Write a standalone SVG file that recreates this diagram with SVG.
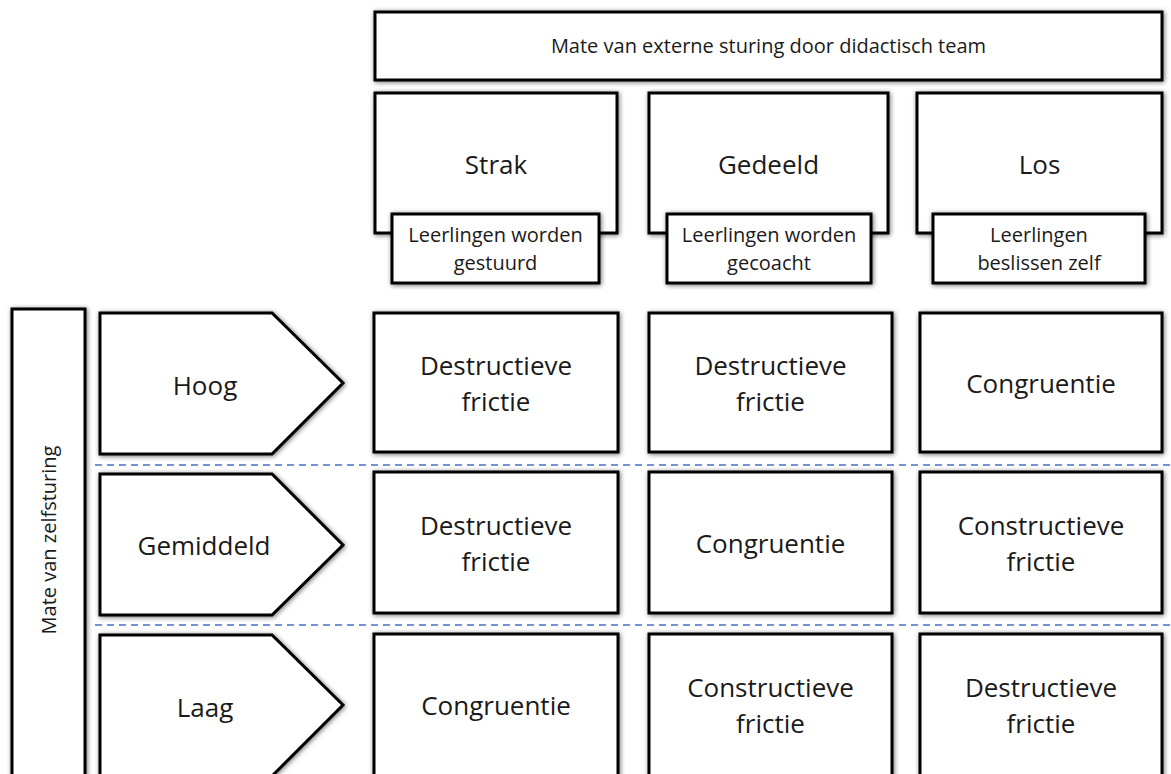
<svg xmlns="http://www.w3.org/2000/svg" width="1171" height="774" viewBox="0 0 1171 774">
  <defs>
    <filter id="sh" x="-10%" y="-10%" width="120%" height="120%">
      <feGaussianBlur in="SourceAlpha" stdDeviation="2.5"/>
      <feOffset dx="1" dy="1" result="b"/>
      <feComponentTransfer><feFuncA type="linear" slope="0.55"/></feComponentTransfer>
      <feMerge><feMergeNode/><feMergeNode in="SourceGraphic"/></feMerge>
    </filter>
  </defs>
  <style>
    .box { fill: #ffffff; stroke: #000000; stroke-width: 3; filter: url(#sh); }
    .t { font-family: "Open Sans", "Liberation Sans", sans-serif; fill: #1a1a1a; text-anchor: middle; }
    .big { font-size: 26px; }
    .small { font-size: 20px; }
    .sep { stroke: #4472C4; stroke-width: 1.5; stroke-dasharray: 7 5; fill: none; }
  </style>
  <rect width="1171" height="774" fill="#ffffff"/>

  <g id="separators">
    <line class="sep" x1="95" y1="465" x2="1171" y2="465"/>
    <line class="sep" x1="95" y1="625" x2="1171" y2="625"/>
  </g>

  <g id="title">
    <rect class="box" x="375" y="12" width="787" height="68"/>
    <text class="t small" x="768.5" y="53">Mate van externe sturing door didactisch team</text>
  </g>

  <g id="col-strak">
    <rect class="box" x="375" y="93" width="242" height="140"/>
    <text class="t big" x="496" y="174">Strak</text>
  </g>
  <g id="sub-strak">
    <rect class="box" x="392" y="214" width="207" height="69"/>
    <text class="t small" x="495.5" y="242">Leerlingen worden</text>
    <text class="t small" x="495.5" y="270">gestuurd</text>
  </g>

  <g id="col-gedeeld">
    <rect class="box" x="649" y="93" width="239" height="140"/>
    <text class="t big" x="768.5" y="174">Gedeeld</text>
  </g>
  <g id="sub-gedeeld">
    <rect class="box" x="667" y="214" width="204" height="69"/>
    <text class="t small" x="769" y="242">Leerlingen worden</text>
    <text class="t small" x="769" y="270">gecoacht</text>
  </g>

  <g id="col-los">
    <rect class="box" x="917" y="93" width="245" height="140"/>
    <text class="t big" x="1039.5" y="174">Los</text>
  </g>
  <g id="sub-los">
    <rect class="box" x="933" y="214" width="212" height="69"/>
    <text class="t small" x="1039" y="242">Leerlingen</text>
    <text class="t small" x="1039" y="270">beslissen zelf</text>
  </g>

  <g id="axis-zelfsturing">
    <rect class="box" x="12" y="309" width="73" height="490"/>
    <text class="t small" transform="translate(56,540) rotate(-90)" x="0" y="0">Mate van zelfsturing</text>
  </g>

  <g id="row-hoog">
    <polygon class="box" points="100,313 272,313 343,383 272,454 100,454"/>
    <text class="t big" x="205" y="395">Hoog</text>
  </g>
  <g id="row-gemiddeld">
    <polygon class="box" points="100,474 272,474 343,545 272,615 100,615"/>
    <text class="t big" x="204" y="555">Gemiddeld</text>
  </g>
  <g id="row-laag">
    <polygon class="box" points="100,635 272,635 343,705 272,776 100,776"/>
    <text class="t big" x="205" y="717">Laag</text>
  </g>

  <g id="cell-hoog-strak">
    <rect class="box" x="374" y="313" width="244" height="139"/>
    <text class="t big" x="496" y="375">Destructieve</text>
    <text class="t big" x="496" y="411">frictie</text>
  </g>
  <g id="cell-hoog-gedeeld">
    <rect class="box" x="649" y="313" width="243" height="139"/>
    <text class="t big" x="770.5" y="375">Destructieve</text>
    <text class="t big" x="770.5" y="411">frictie</text>
  </g>
  <g id="cell-hoog-los">
    <rect class="box" x="920" y="313" width="242" height="139"/>
    <text class="t big" x="1041" y="393">Congruentie</text>
  </g>

  <g id="cell-gemiddeld-strak">
    <rect class="box" x="374" y="472" width="244" height="141"/>
    <text class="t big" x="496" y="535">Destructieve</text>
    <text class="t big" x="496" y="571">frictie</text>
  </g>
  <g id="cell-gemiddeld-gedeeld">
    <rect class="box" x="649" y="472" width="243" height="141"/>
    <text class="t big" x="770.5" y="553">Congruentie</text>
  </g>
  <g id="cell-gemiddeld-los">
    <rect class="box" x="920" y="472" width="242" height="141"/>
    <text class="t big" x="1041" y="535">Constructieve</text>
    <text class="t big" x="1041" y="571">frictie</text>
  </g>

  <g id="cell-laag-strak">
    <rect class="box" x="374" y="634" width="244" height="142"/>
    <text class="t big" x="496" y="715">Congruentie</text>
  </g>
  <g id="cell-laag-gedeeld">
    <rect class="box" x="649" y="634" width="243" height="142"/>
    <text class="t big" x="770.5" y="697">Constructieve</text>
    <text class="t big" x="770.5" y="733">frictie</text>
  </g>
  <g id="cell-laag-los">
    <rect class="box" x="920" y="634" width="242" height="142"/>
    <text class="t big" x="1041" y="697">Destructieve</text>
    <text class="t big" x="1041" y="733">frictie</text>
  </g>
</svg>
